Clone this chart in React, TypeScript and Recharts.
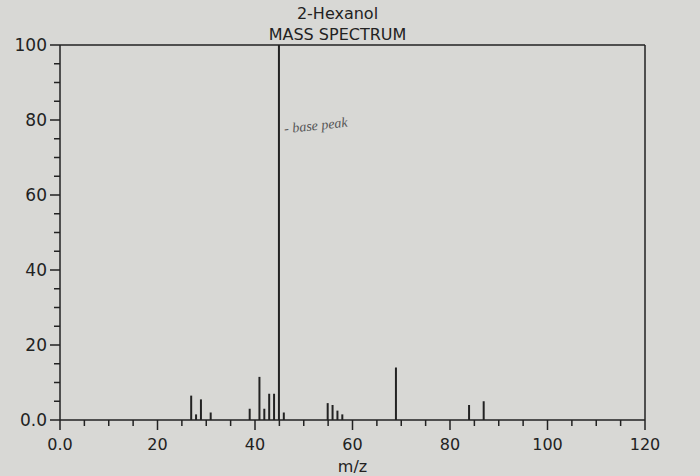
import { BarChart, Bar, XAxis, YAxis, ReferenceLine, Label } from 'recharts';

const massToCharge = [27, 28, 29, 31, 39, 41, 42, 43, 44, 45, 46, 55, 56, 57, 58, 69, 84, 87];
const relIntensity = [6.5, 1.5, 5.5, 2, 3, 11.5, 3, 7, 7, 100, 2, 4.5, 4, 2.5, 1.5, 14, 4, 5];
const xTicks = [0, 5, 10, 15, 20, 25, 30, 35, 40, 45, 50, 55, 60, 65, 70, 75, 80, 85, 90, 95, 100, 105, 110, 115, 120];
const yTicks = [0, 5, 10, 15, 20, 25, 30, 35, 40, 45, 50, 55, 60, 65, 70, 75, 80, 85, 90, 95, 100];

const data = massToCharge.map((mz, i) => ({ mz, value: relIntensity[i] }));

const FONT = '"DejaVu Sans", sans-serif';
const INK = '#222';

function fmt(v: number) {
  return v === 0 ? '0.0' : String(v);
}

function XTick(props: any) {
  const { x, y, payload } = props;
  const major = payload.value % 20 === 0;
  return (
    <g>
      <line x1={x} x2={x} y1={y} y2={y + (major ? 10 : 6)} stroke={INK} strokeWidth={1.5} />
      {major && (
        <text x={x} y={y + 30} textAnchor="middle" fontSize={16} fontFamily={FONT} fill={INK}>
          {fmt(payload.value)}
        </text>
      )}
    </g>
  );
}

function YTick(props: any) {
  const { x, y, payload } = props;
  const major = payload.value % 20 === 0;
  return (
    <g>
      <line x1={x} x2={x - (major ? 10 : 6)} y1={y} y2={y} stroke={INK} strokeWidth={1.5} />
      {major && (
        <text x={x - 13} y={y + 6} textAnchor="end" fontSize={17} fontFamily={FONT} fill={INK}>
          {fmt(payload.value)}
        </text>
      )}
    </g>
  );
}

export default function App() {
  return (
    <div style={{ position: 'absolute', top: 0, left: 0, width: 700, height: 476, background: '#d8d8d5', fontFamily: FONT }}>
      <div style={{ position: 'absolute', top: 3, left: 0, width: 675, textAlign: 'center', fontSize: 16, color: INK, lineHeight: '21px' }}>
        <div>2-Hexanol</div>
        <div>MASS SPECTRUM</div>
      </div>
      <div style={{ position: 'absolute', top: 118, left: 284, fontSize: 14, fontStyle: 'italic', fontFamily: '"Liberation Serif", serif', color: '#555', transform: 'rotate(-6deg)' }}>
        - base peak
      </div>
      <div style={{ position: 'absolute', top: 0, left: 0 }}>
        <BarChart width={700} height={476} data={data} margin={{ top: 45, right: 55, bottom: 0, left: 0 }}>
          <XAxis
            dataKey="mz"
            type="number"
            domain={[0, 120]}
            ticks={xTicks}
            interval={0}
            tickSize={0}
            tickMargin={0}
            tickLine={false}
            tick={<XTick />}
            axisLine={{ stroke: INK, strokeWidth: 1.5 }}
            height={56}
          >
            <Label value="m/z" position="insideBottom" offset={4} fontSize={16} fontFamily={FONT} fill={INK} />
          </XAxis>
          <YAxis
            type="number"
            domain={[0, 100]}
            ticks={yTicks}
            interval={0}
            tickSize={0}
            tickMargin={0}
            tickLine={false}
            tick={<YTick />}
            axisLine={{ stroke: INK, strokeWidth: 1.5 }}
            width={60}
          />
          <ReferenceLine y={100} stroke={INK} strokeWidth={1.5} />
          <ReferenceLine x={120} stroke={INK} strokeWidth={1.5} />
          <Bar dataKey="value" fill={INK} barSize={2} isAnimationActive={false} />
        </BarChart>
      </div>
    </div>
  );
}
